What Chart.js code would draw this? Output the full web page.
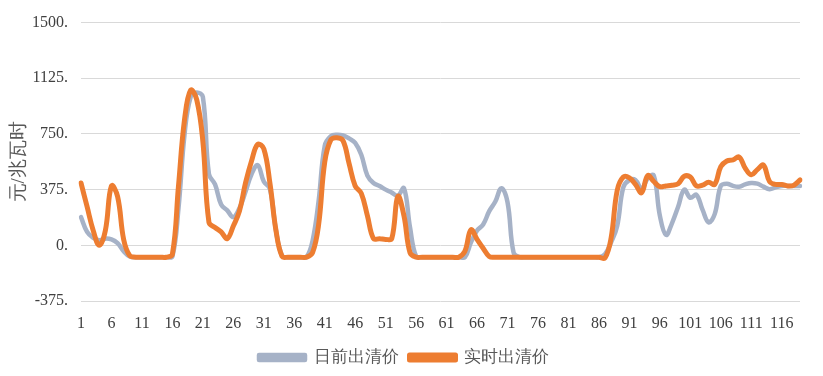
<!DOCTYPE html>
<html>
<head>
<meta charset="utf-8">
<script src="https://cdn.jsdelivr.net/npm/chart.js@4"></script>
<style>
  html, body { margin: 0; padding: 0; background: #fff; }
  #wrap { width: 823px; height: 376px; }
</style>
</head>
<body>
<div id="wrap"><canvas id="myChart" width="823" height="376"></canvas></div>
<script>
// categories 1..119
const periods = Array.from({ length: 119 }, (_, i) => String(i + 1));

// 日前出清价 (gray)
const dayAhead = [
  190, 90, 50, 35, 45, 40, 15, -40, -75, -80,
  -80, -80, -80, -80, -80, -75, 250, 750, 1000, 1030,
  1000, 480, 410, 275, 235, 190, 250, 360, 480, 540,
  430, 380, 100, -70, -80, -80, -80, -80, 30, 300,
  670, 735, 745, 740, 720, 690, 610, 470, 420, 400,
  375, 355, 335, 385, 120, -75, -80, -80, -80, -80,
  -80, -80, -80, -80, 20, 100, 140, 230, 295, 385,
  290, -50, -80, -80, -80, -80, -80, -80, -80, -80,
  -80, -80, -80, -80, -80, -80, -60, 20, 130, 390,
  440, 440, 380, 450, 470, 200, 70, 150, 260, 375,
  320, 340, 240, 155, 210, 400, 415, 400, 395, 410,
  420, 415, 395, 378, 390, 400, 400, 400, 400
];

// 实时出清价 (orange)
const realTime = [
  420, 260, 100, 0, 100, 400, 330, 40, -70, -80,
  -80, -80, -80, -80, -80, -60, 400, 850, 1045, 980,
  700, 155, 120, 90, 45, 130, 230, 420, 570, 680,
  650, 420, 100, -75, -80, -80, -80, -80, -50, 140,
  560, 710, 725, 705, 550, 400, 350, 200, 45, 45,
  40, 45, 330, 200, -50, -80, -80, -80, -80, -80,
  -80, -80, -80, -40, 105, 40, -20, -75, -80, -80,
  -80, -80, -80, -80, -80, -80, -80, -80, -80, -80,
  -80, -80, -80, -80, -80, -80, -85, 50, 370, 460,
  455, 410, 355, 470, 430, 395, 400, 405, 415, 465,
  460, 400, 405, 425, 410, 530, 568, 575, 595, 520,
  475, 510, 540, 430, 410, 410, 400, 405, 440
];

const seriesNames = ['日前出清价', '实时出清价'];
const yTicks = [-375, 0, 375, 750, 1125, 1500];

const serif = "'Liberation Serif', serif";
Chart.defaults.font.family = serif;

const ctx = document.getElementById('myChart').getContext('2d');
new Chart(ctx, {
  type: 'line',
  data: {
    labels: periods,
    datasets: [
      {
        label: seriesNames[0],
        data: dayAhead,
        borderColor: '#A6B2C7',
        backgroundColor: '#A6B2C7',
        borderWidth: 4.5,
        pointRadius: 0,
        tension: 0.4,
        borderCapStyle: 'round',
        borderJoinStyle: 'round',
        order: 1
      },
      {
        label: seriesNames[1],
        data: realTime,
        borderColor: '#ED7D31',
        backgroundColor: '#ED7D31',
        borderWidth: 5,
        pointRadius: 0,
        tension: 0.4,
        borderCapStyle: 'round',
        borderJoinStyle: 'round',
        order: 0
      }
    ]
  },
  options: {
    responsive: false,
    animation: false,
    layout: { padding: { top: 19, right: 23, bottom: 0, left: 8 } },
    plugins: {
      tooltip: { enabled: false },
      legend: {
        position: 'bottom',
        labels: {
          sort: (a, b) => a.datasetIndex - b.datasetIndex,
          boxWidth: 46,
          boxHeight: 5,
          padding: 11,
          color: '#595959',
          font: { family: serif, size: 17 }
        }
      }
    },
    scales: {
      x: {
        offset: false,
        grid: { display: false, drawTicks: false },
        border: { display: false },
        ticks: {
          autoSkip: false,
          maxRotation: 0,
          padding: 13,
          color: '#404040',
          font: { family: serif, size: 16 },
          callback: function(value, index) {
            return index % 5 === 0 ? periods[index] : '';
          }
        },
        afterFit: function(scale) { scale.height = 37; }
      },
      y: {
        min: yTicks[0],
        max: yTicks[yTicks.length - 1],
        afterBuildTicks: function(scale) {
          scale.ticks = yTicks.map(v => ({ value: v }));
        },
        grid: { color: '#D9D9D9', lineWidth: 1, drawTicks: false },
        border: { display: false },
        ticks: {
          padding: 13,
          color: '#404040',
          font: { family: serif, size: 16 },
          callback: v => v + '.'
        },
        title: {
          display: true,
          text: '元/兆瓦时',
          color: '#595959',
          font: { family: serif, size: 19 },
          padding: { top: 0, bottom: 0 }
        },
        afterFit: function(scale) { scale.width = 73; }
      }
    }
  }
});
</script>
</body>
</html>
